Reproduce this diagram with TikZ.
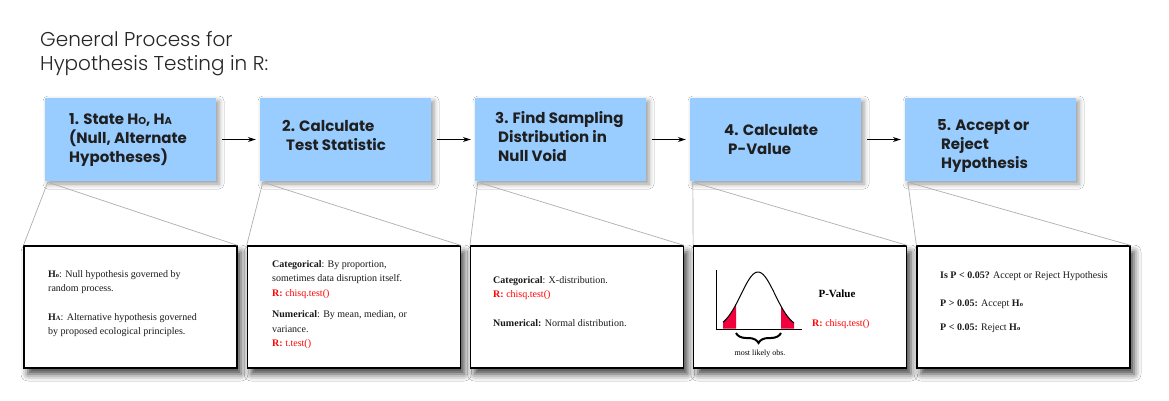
\documentclass[tikz,border=0pt]{standalone}
\usepackage{fontspec}
\setmainfont{Liberation Serif}
\newfontfamily\boxfont{Poppins}
\newfontfamily\titlefont{Poppins Light}
\usetikzlibrary{shadows.blur,arrows.meta,decorations.pathreplacing}
\definecolor{boxblue}{RGB}{153,204,255}
\definecolor{rred}{RGB}{255,0,0}
\definecolor{tailred}{RGB}{240,0,60}
\definecolor{linkgray}{RGB}{175,175,175}
\newcommand\smallsub[1]{{\fontsize{6.5}{7}\selectfont\raisebox{-0.4pt}{#1}}}
\newcommand\capsub[1]{{\fontsize{10}{10}\selectfont #1}}
\begin{document}
\begin{tikzpicture}[x=1pt,y=-1pt,
  stepbox/.style={fill=boxblue, minimum width=171pt, minimum height=83pt, inner sep=0,
    blur shadow={shadow xshift=3pt,shadow yshift=-3pt,shadow blur radius=5pt,shadow opacity=40}},
  detailbox/.style={draw=black, line width=1.2pt, fill=white, minimum width=213pt, minimum height=122pt, inner sep=0,
    blur shadow={shadow xshift=4pt, shadow yshift=-6pt, shadow blur radius=7pt, shadow opacity=75}},
  steptext/.style={anchor=base west, inner sep=0, font=\boxfont\bfseries\fontsize{15}{19}\selectfont, text=black!88},
  detailtext/.style={anchor=base west, inner sep=0, font=\fontsize{10}{14.5}\selectfont, text=black!90},
  titletext/.style={anchor=base west, inner sep=0, font=\titlefont\fontsize{20}{24}\selectfont, text=black!85},
  arr/.style={-{Stealth[length=8pt,width=5pt]}, line width=0.9pt, shorten <=6pt, shorten >=4pt},
  link/.style={draw=linkgray, line width=0.7pt},
  axisline/.style={line width=1pt, line cap=rect}]

\useasboundingbox[fill=white] (0,0) rectangle (1169,400);

% title
\node[titletext] (title) at (40,46) {\begin{tabular}[t]{@{}l@{}}General Process for\\Hypothesis Testing in R:\end{tabular}};

% step boxes
\node[stepbox] (b1) at (130.5,139.5) {};
\node[stepbox] (b2) at (345.5,139.5) {};
\node[stepbox] (b3) at (560.5,139.5) {};
\node[stepbox] (b4) at (775.5,139.5) {};
\node[stepbox] (b5) at (990.5,139.5) {};

\node[steptext] (t1) at (69,124) {\begin{tabular}[t]{@{}l@{}}1. State H\capsub{O}, H\capsub{A}\\(Null, Alternate\\Hypotheses)\end{tabular}};
\node[steptext] (t2) at (282,131) {\begin{tabular}[t]{@{}l@{}}2. Calculate\\\hspace{4pt}Test Statistic\end{tabular}};
\node[steptext] (t3) at (495,123) {\begin{tabular}[t]{@{}l@{}}3. Find Sampling\\\hspace{3pt}Distribution in\\\hspace{3pt}Null Void\end{tabular}};
\node[steptext] (t4) at (724,135) {\begin{tabular}[t]{@{}l@{}}4. Calculate\\\hspace{4pt}P-Value\end{tabular}};
\node[steptext] (t5) at (937,130) {\begin{tabular}[t]{@{}l@{}}5. Accept or\\\hspace{4pt}Reject\\\hspace{4pt}Hypothesis\end{tabular}};

% arrows
\draw[arr] (b1) -- (b2);
\draw[arr] (b2) -- (b3);
\draw[arr] (b3) -- (b4);
\draw[arr] (b4) -- (b5);

% detail boxes
\node[detailbox] (d1) at (130.5,307) {};
\node[detailbox] (d2) at (353.75,307) {};
\node[detailbox] (d3) at (577,307) {};
\node[detailbox] (d4) at (800.25,307) {};
\node[detailbox] (d5) at (1023.5,307) {};

% callout lines
\foreach \i in {1,...,5}{
  \draw[link] ([xshift=3pt,yshift=-1pt]b\i.south west) -- (d\i.north west);
  \draw[link] ([xshift=3pt,yshift=-1pt]b\i.south west) -- (d\i.north east);
}

% detail texts
\node[detailtext] (x1) at (48,277) {\begin{tabular}[t]{@{}l@{}}\textbf{H\smallsub{o}}: Null hypothesis governed by\\random process.\\[14pt]\textbf{H\smallsub{A}}: Alternative hypothesis governed\\by proposed ecological principles.\end{tabular}};

\node[detailtext] (x2) at (272,267) {\begin{tabular}[t]{@{}l@{}}\textbf{Categorical}: By proportion,\\sometimes data disruption itself.\\\textcolor{rred}{\textbf{R:} chisq.test()}\\[7pt]\textbf{Numerical}: By mean, median, or\\variance.\\\textcolor{rred}{\textbf{R:} t.test()}\end{tabular}};

\node[detailtext] (x3) at (493,283) {\begin{tabular}[t]{@{}l@{}}\textbf{Categorical}: X-distribution.\\\textcolor{rred}{\textbf{R:} chisq.test()}\\[14pt]\textbf{Numerical:} Normal distribution.\end{tabular}};

\node[detailtext] (x5) at (940,278) {\begin{tabular}[t]{@{}l@{}}\textbf{Is P < 0.05?} Accept or Reject Hypothesis\\[13.5pt]\textbf{P > 0.05:} Accept \textbf{H\smallsub{o}}\\[9.5pt]\textbf{P < 0.05:} Reject \textbf{H\smallsub{o}}\end{tabular}};

% p-value graph
\fill[tailred] (723,328.5) -- plot[domain=-35:-22, samples=14] ({758+\x},{329-57*exp(-((\x)*(\x))/578)}) -- (736,328.5) -- cycle;
\fill[tailred] (781,328.5) -- plot[domain=23:36, samples=14] ({758+\x},{329-57*exp(-((\x)*(\x))/578)}) -- (794,328.5) -- cycle;
\draw[line width=1pt] plot[domain=-35:36, samples=71, smooth] ({758+\x},{329-57*exp(-((\x)*(\x))/578)});
\coordinate (ay) at (716,270);
\coordinate (ao) at (716,329);
\coordinate (ax) at (801,329);
\draw[axisline] (ay) -- (ao) -- (ax);
\coordinate (br1) at (736,333);
\coordinate (br2) at (781,333);
\draw[decorate, decoration={brace, mirror, amplitude=10pt}, line width=2pt] (br1) -- (br2);
\node[anchor=base, inner sep=0, font=\fontsize{8}{9}\selectfont] (obs) at (760,355) {most likely obs.};
\node[anchor=base, inner sep=0, font=\bfseries\fontsize{11}{12}\selectfont] (pv) at (837,297) {P-Value};
\node[anchor=base west, inner sep=0, font=\fontsize{10}{12}\selectfont, text=rred] (rp) at (812,326) {\textbf{R:} chisq.test()};
\end{tikzpicture}
\end{document}
